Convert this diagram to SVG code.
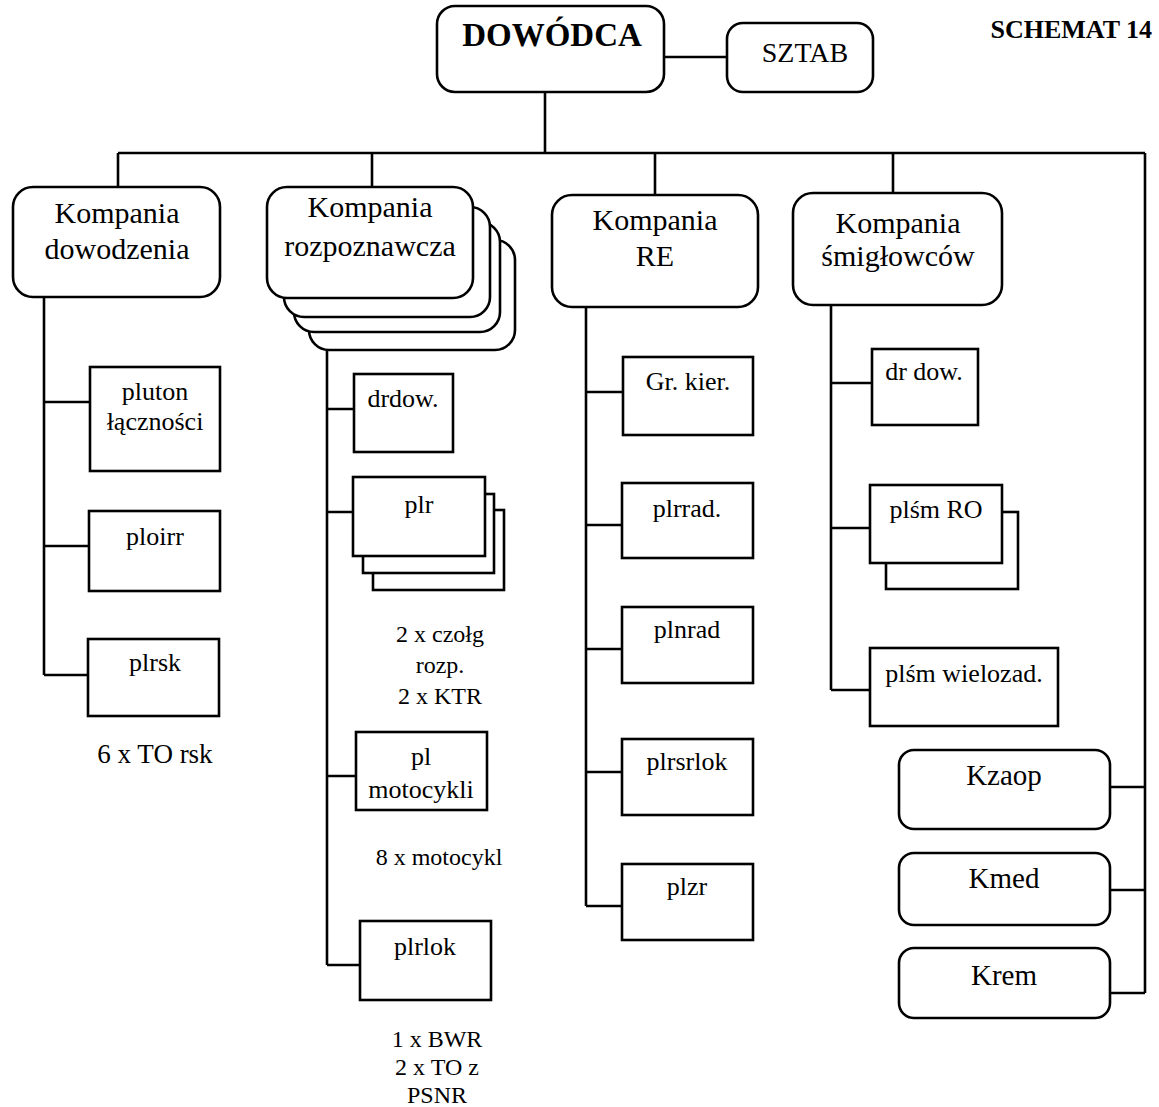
<svg xmlns="http://www.w3.org/2000/svg" width="1159" height="1107" viewBox="0 0 1159 1107">
<style>
  .bx { fill: #fff; stroke: #000; stroke-width: 2.6; }
  .ln { fill: none; stroke: #000; stroke-width: 2.6; }
  text { font-family: "Liberation Serif", "Times New Roman", serif; fill: #000; text-anchor: middle; }
  .k { font-size: 30px; }
  .s { font-size: 26px; }
  .n { font-size: 24px; }
</style>
<rect x="0" y="0" width="1159" height="1107" fill="#fff"/>

<g id="connectors">
  <path class="ln" d="M664,57 H727"/>
  <path class="ln" d="M545,92 V153"/>
  <path class="ln" d="M118,153 H1145"/>
  <path class="ln" d="M118,153 V187 M372,153 V187 M655,153 V195 M893,153 V193"/>
  <path class="ln" d="M1145,153 V993 M1145,787 H1110 M1145,890 H1110 M1145,993 H1110"/>
  <path class="ln" d="M44,297 V675 M44,402 H90 M44,546 H89 M44,675 H88"/>
  <path class="ln" d="M327,350 V965 M327,409 H354 M327,512 H353 M327,776 H356 M327,965 H360"/>
  <path class="ln" d="M586,307 V906 M586,392 H623 M586,525 H622 M586,649 H622 M586,772 H622 M586,906 H622"/>
  <path class="ln" d="M831,305 V690 M831,383 H872 M831,528 H870 M831,690 H870"/>
</g>

<g id="schemat">
  <text x="1152" y="38" style="font-size:26px;font-weight:bold;text-anchor:end">SCHEMAT 14</text>
</g>

<g id="dowodca">
  <rect class="bx" x="437" y="6" width="227" height="86" rx="18"/>
  <text x="552" y="46" style="font-size:33px;font-weight:bold">DOWÓDCA</text>
</g>

<g id="sztab">
  <rect class="bx" x="727" y="23" width="146" height="69" rx="16"/>
  <text x="805" y="62" style="font-size:28px">SZTAB</text>
</g>

<g id="k-dowodzenia">
  <rect class="bx" x="13" y="187" width="207" height="110" rx="20"/>
  <text class="k" x="117" y="223">Kompania</text>
  <text class="k" x="117" y="259">dowodzenia</text>
</g>

<g id="k-rozpoznawcza">
  <rect class="bx" x="309" y="240" width="206" height="110" rx="20"/>
  <rect class="bx" x="294" y="222" width="206" height="110" rx="20"/>
  <rect class="bx" x="284" y="207" width="206" height="110" rx="20"/>
  <rect class="bx" x="267" y="187" width="206" height="111" rx="20"/>
  <text class="k" x="370" y="217">Kompania</text>
  <text class="k" x="370" y="256">rozpoznawcza</text>
</g>

<g id="k-re">
  <rect class="bx" x="552" y="195" width="206" height="112" rx="20"/>
  <text class="k" x="655" y="230">Kompania</text>
  <text class="k" x="655" y="266">RE</text>
</g>

<g id="k-smiglowcow">
  <rect class="bx" x="793" y="193" width="209" height="112" rx="20"/>
  <text class="k" x="898" y="233">Kompania</text>
  <text class="k" x="898" y="266">śmigłowców</text>
</g>

<g id="pluton-lacznosci">
  <rect class="bx" x="90" y="367" width="130" height="104"/>
  <text class="s" x="155" y="400">pluton</text>
  <text class="s" x="155" y="430">łączności</text>
</g>

<g id="ploirr">
  <rect class="bx" x="89" y="511" width="131" height="80"/>
  <text class="s" x="155" y="545">ploirr</text>
</g>

<g id="plrsk">
  <rect class="bx" x="88" y="639" width="131" height="77"/>
  <text class="s" x="155" y="671">plrsk</text>
</g>

<g id="note-torsk">
  <text x="155" y="763" style="font-size:27px">6 x TO rsk</text>
</g>

<g id="drdow">
  <rect class="bx" x="354" y="374" width="99" height="78"/>
  <text class="s" x="403" y="407">drdow.</text>
</g>

<g id="plr">
  <rect class="bx" x="373" y="510" width="131" height="80"/>
  <rect class="bx" x="363" y="494" width="131" height="79"/>
  <rect class="bx" x="353" y="477" width="132" height="79"/>
  <text class="s" x="419" y="513">plr</text>
</g>

<g id="note-czolg">
  <text class="n" x="440" y="642">2 x czołg</text>
  <text class="n" x="440" y="673">rozp.</text>
  <text class="n" x="440" y="704">2 x KTR</text>
</g>

<g id="pl-motocykli">
  <rect class="bx" x="356" y="732" width="131" height="78"/>
  <text class="s" x="421" y="765">pl</text>
  <text class="s" x="421" y="798">motocykli</text>
</g>

<g id="note-motocykl">
  <text class="n" x="439" y="865">8 x motocykl</text>
</g>

<g id="plrlok">
  <rect class="bx" x="360" y="921" width="131" height="79"/>
  <text class="s" x="425" y="955">plrlok</text>
</g>

<g id="note-bwr">
  <text class="n" x="437" y="1047">1 x BWR</text>
  <text class="n" x="437" y="1075">2 x TO z</text>
  <text class="n" x="437" y="1103">PSNR</text>
</g>

<g id="gr-kier">
  <rect class="bx" x="623" y="357" width="130" height="78"/>
  <text class="s" x="688" y="390">Gr. kier.</text>
</g>

<g id="plrrad">
  <rect class="bx" x="622" y="483" width="131" height="75"/>
  <text class="s" x="687" y="517">plrrad.</text>
</g>

<g id="plnrad">
  <rect class="bx" x="622" y="607" width="131" height="76"/>
  <text class="s" x="687" y="638">plnrad</text>
</g>

<g id="plrsrlok">
  <rect class="bx" x="622" y="739" width="131" height="76"/>
  <text class="s" x="687" y="770">plrsrlok</text>
</g>

<g id="plzr">
  <rect class="bx" x="622" y="864" width="131" height="76"/>
  <text class="s" x="687" y="895">plzr</text>
</g>

<g id="dr-dow">
  <rect class="bx" x="872" y="349" width="106" height="76"/>
  <text class="s" x="924" y="380">dr dow.</text>
</g>

<g id="plsm-ro">
  <rect class="bx" x="886" y="512" width="132" height="77"/>
  <rect class="bx" x="870" y="485" width="132" height="78"/>
  <text class="s" x="936" y="518">plśm RO</text>
</g>

<g id="plsm-wielozad">
  <rect class="bx" x="870" y="648" width="188" height="78"/>
  <text class="s" x="964" y="682">plśm wielozad.</text>
</g>

<g id="kzaop">
  <rect class="bx" x="899" y="750" width="211" height="79" rx="15"/>
  <text x="1004" y="785" style="font-size:29px">Kzaop</text>
</g>

<g id="kmed">
  <rect class="bx" x="899" y="853" width="211" height="72" rx="15"/>
  <text x="1004" y="888" style="font-size:29px">Kmed</text>
</g>

<g id="krem">
  <rect class="bx" x="899" y="948" width="211" height="70" rx="15"/>
  <text x="1004" y="985" style="font-size:29px">Krem</text>
</g>
</svg>
